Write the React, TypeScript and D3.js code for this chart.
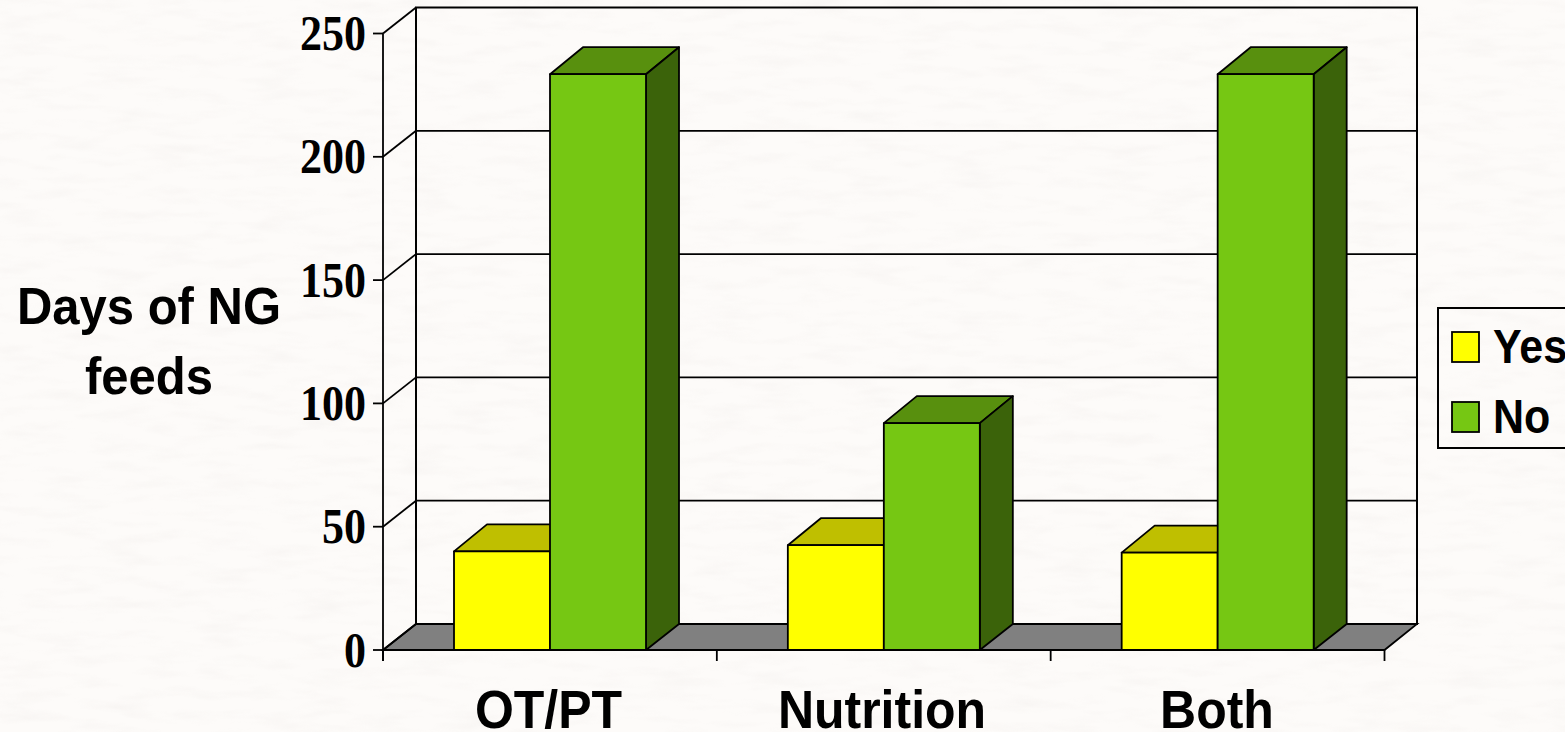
import React from "react";
import * as d3 from "d3";

const categories = ["OT/PT", "Nutrition", "Both"];
const seriesNames = ["Yes", "No"];
const yesValues = [40, 42.5, 39.5];
const noValues = [233.5, 92, 233.5];
const yTicks = [0, 50, 100, 150, 200, 250];

const WIDTH = 1565;
const HEIGHT = 732;
const DEPTH_X = 33;
const WALL_DEPTH_Y = 26;
const BAR_DEPTH_Y = 27;

const serif = "'Liberation Serif', 'Times New Roman', serif";
const sans = "'Liberation Sans', Arial, sans-serif";

const fills: Record<string, { front: string; top: string; side: string }> = {
  Yes: { front: "#ffff00", top: "#bfbf00", side: "#808000" },
  No: { front: "#76c713", top: "#58900e", side: "#3b630a" },
};

const y = d3.scaleLinear().domain([0, 250]).range([650, 33.5]);
const x = d3.scaleBand<string>().domain(categories).range([383, 1384.5]);
const inner = d3.scaleBand<string>().domain(seriesNames).range([71, 263]);
const poly = (pts: [number, number][]) => d3.line()(pts) + "Z";

// Bold label drawn slightly taller than its natural proportions.
function Label({
  px,
  py,
  size,
  stretch,
  family,
  anchor,
  children,
}: {
  px: number;
  py: number;
  size: number;
  stretch: number;
  family: string;
  anchor: "start" | "middle" | "end";
  children: React.ReactNode;
}) {
  return (
    <text
      transform={`translate(${px},${py}) scale(1,${stretch})`}
      textAnchor={anchor}
      fontFamily={family}
      fontWeight="bold"
      fontSize={size}
    >
      {children}
    </text>
  );
}

function Bar({ cat, name, value }: { cat: string; name: string; value: number }) {
  const x0 = x(cat)! + inner(name)!;
  const x1 = x0 + inner.bandwidth();
  const yb = y(0);
  const yt = y(value);
  const c = fills[name];
  const stroke = { stroke: "#000", strokeWidth: 1.8, strokeLinejoin: "round" as const };
  return (
    <g>
      <path
        d={poly([[x0, yt], [x0 + DEPTH_X, yt - BAR_DEPTH_Y], [x1 + DEPTH_X, yt - BAR_DEPTH_Y], [x1, yt]])}
        fill={c.top}
        {...stroke}
      />
      <path
        d={poly([[x1, yb], [x1 + DEPTH_X, yb - WALL_DEPTH_Y], [x1 + DEPTH_X, yt - BAR_DEPTH_Y], [x1, yt]])}
        fill={c.side}
        {...stroke}
      />
      <rect x={x0} y={yt} width={x1 - x0} height={yb - yt} fill={c.front} {...stroke} />
    </g>
  );
}

export default function App() {
  const backLeft = 383 + DEPTH_X;
  const backRight = 1417;
  const axisRight = x.range()[1];
  const backY = (v: number) => y(v) - WALL_DEPTH_Y;
  const line = { stroke: "#000", strokeWidth: 1.8 };
  const labelCentres = [548.5, 882, 1217];

  return (
    <svg
      width={WIDTH}
      height={HEIGHT}
      viewBox={`0 0 ${WIDTH} ${HEIGHT}`}
      style={{ position: "absolute", left: 0, top: 0, display: "block" }}
    >
      <defs>
        {/* faint streaky paper grain */}
        <filter id="paper" x="0" y="0" width="100%" height="100%">
          <feTurbulence type="fractalNoise" baseFrequency="0.02 0.09" numOctaves="3" seed="7" />
          <feColorMatrix
            type="matrix"
            values="0 0 0 0 0.78  0 0 0 0 0.74  0 0 0 0 0.72  1.1 0 0 0 -0.5"
          />
        </filter>
      </defs>
      <rect width={WIDTH} height={HEIGHT} fill="#fdfbf9" />
      <rect width={WIDTH} height={HEIGHT} filter="url(#paper)" opacity={0.35} />

      {/* floor */}
      <path
        d={poly([[383, y(0)], [backLeft, backY(0)], [backRight, backY(0)], [axisRight, y(0)]])}
        fill="#808080"
        {...line}
      />

      {/* back wall and gridlines */}
      <rect
        x={backLeft}
        y={backY(250)}
        width={backRight - backLeft}
        height={backY(0) - backY(250)}
        fill="none"
        stroke="#000"
        strokeWidth={2}
      />
      {yTicks.slice(1, -1).map((t) => (
        <line key={t} x1={backLeft} x2={backRight} y1={backY(t)} y2={backY(t)} {...line} />
      ))}

      {/* left wall diagonals, axis and ticks */}
      {yTicks.map((t) => (
        <g key={t}>
          <line x1={383} x2={backLeft} y1={y(t)} y2={backY(t)} {...line} />
          <line x1={373} x2={383} y1={y(t)} y2={y(t)} {...line} />
          <Label px={366} py={y(t) + 16.5} size={44} stretch={1.14} family={serif} anchor="end">
            {t}
          </Label>
        </g>
      ))}
      <line x1={383} x2={383} y1={y(250)} y2={y(0) + 11} {...line} />
      <line x1={383} x2={axisRight} y1={y(0)} y2={y(0)} {...line} />
      {[...categories.map((c) => x(c)!), axisRight].map((px) => (
        <line key={px} x1={px} x2={px} y1={y(0)} y2={y(0) + 11} {...line} />
      ))}

      {/* bars */}
      {categories.map((c, i) => (
        <g key={c}>
          <Bar cat={c} name="Yes" value={yesValues[i]} />
          <Bar cat={c} name="No" value={noValues[i]} />
        </g>
      ))}

      {/* category labels */}
      {categories.map((c, i) => (
        <Label key={c} px={labelCentres[i]} py={728} size={50} stretch={1.08} family={sans} anchor="middle">
          {c}
        </Label>
      ))}

      {/* axis title */}
      <Label px={149} py={324} size={49} stretch={1.04} family={sans} anchor="middle">
        Days of NG
      </Label>
      <Label px={149} py={394} size={49} stretch={1.04} family={sans} anchor="middle">
        feeds
      </Label>

      {/* legend */}
      <rect x={1438} y={308} width={140} height={140} fill="none" stroke="#000" strokeWidth={2} />
      {seriesNames.map((n, i) => (
        <g key={n}>
          <rect
            x={1452}
            y={332 + i * 70}
            width={27}
            height={30}
            fill={fills[n].front}
            stroke="#000"
            strokeWidth={1.8}
          />
          <Label px={1493} py={363 + i * 70} size={43} stretch={1.1} family={sans} anchor="start">
            {n}
          </Label>
        </g>
      ))}
    </svg>
  );
}
